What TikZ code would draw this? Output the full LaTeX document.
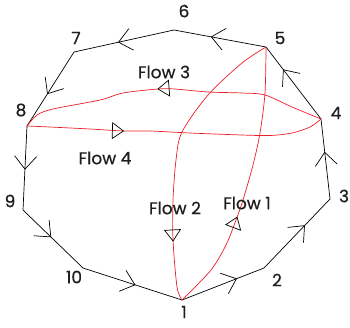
\documentclass[tikz,border=0pt]{standalone}
\usepackage{fontspec}
\setmainfont{Poppins}
\newfontfamily\lblfont{Poppins}[FakeBold=0.6]
\usetikzlibrary{arrows.meta,decorations.markings}
\definecolor{flowred}{RGB}{235,30,40}
\definecolor{lbltext}{RGB}{30,30,30}
\begin{document}
\begin{tikzpicture}[x=1pt,y=-1pt,
  edge/.style={draw=black, line width=0.7pt, postaction={decorate},
    decoration={markings, mark=at position #1 with {\arrow{Straight Barb[length=13pt,width=22pt,line width=0.7pt]}}}},
  flow/.style={draw=flowred, line width=0.7pt, postaction={decorate},
    decoration={markings, mark=at position #1 with {\arrow{Triangle[open,length=12pt,width=17pt,line width=0.7pt,color=black]}}}},
  lbl/.style={font=\lblfont\fontsize{17}{17}\selectfont, text=lbltext, inner sep=0pt}
]
\useasboundingbox (0,0) rectangle (350,327);
% vertices
\coordinate (v1) at (182,300);
\coordinate (v2) at (264,268);
\coordinate (v3) at (330,199);
\coordinate (v4) at (321,119);
\coordinate (v5) at (266,47);
\coordinate (v6) at (174,30);
\coordinate (v7) at (74,52);
\coordinate (v8) at (27,126);
\coordinate (v9) at (23,210);
\coordinate (v10) at (83,268);
% boundary edges
\path[edge=0.67] (v1) -- (v2);
\path[edge=0.62] (v2) -- (v3);
\path[edge=0.59] (v3) -- (v4);
\path[edge=0.69] (v4) -- (v5);
\path[edge=0.60] (v5) -- (v6);
\path[edge=0.56] (v6) -- (v7);
\path[edge=0.57] (v7) -- (v8);
\path[edge=0.52] (v8) -- (v9);
\path[edge=0.47] (v9) -- (v10);
\path[edge=0.53] (v10) -- (v1);
% flows
\path[flow=0.37] plot[smooth] coordinates {(v1) (211,270) (226,245) (236,220) (243,200) (253,165) (260,133) (265,93) (v5)};
\path[flow=0.795] plot[smooth] coordinates {(v5) (242,63) (208,95) (182,132) (176,160) (173,200) (173,240) (177,287) (v1)};
\path[flow=0.549] plot[smooth] coordinates {(v4) (292,107) (265,95) (242,93) (208,92) (175,89) (158,89) (123,93) (100,100) (53,109) (37,115) (v8)};
\path[flow=0.326] plot[smooth] coordinates {(v8) (50,127) (90,129) (124,131) (150,131) (190,133) (242,135) (270,135.5) (292,133) (310,127) (v4)};
% labels
\node[lbl] (l1) at (184,312) {1};
\node[lbl] (l2) at (277,280) {2};
\node[lbl] (l3) at (344,196) {3};
\node[lbl] (l4) at (336,113) {4};
\node[lbl] (l5) at (280,38) {5};
\node[lbl] (l6) at (184,11) {6};
\node[lbl] (l7) at (76,38) {7};
\node[lbl] (l8) at (21,110) {8};
\node[lbl] (l9) at (10,201) {9};
\node[lbl] (l10) at (74,277) {10};
\node[lbl] (f1) at (247,203) {Flow 1};
\node[lbl] (f2) at (175,208) {Flow 2};
\node[lbl] (f3) at (164,72) {Flow 3};
\node[lbl] (f4) at (105,158) {Flow 4};
\end{tikzpicture}
\end{document}
